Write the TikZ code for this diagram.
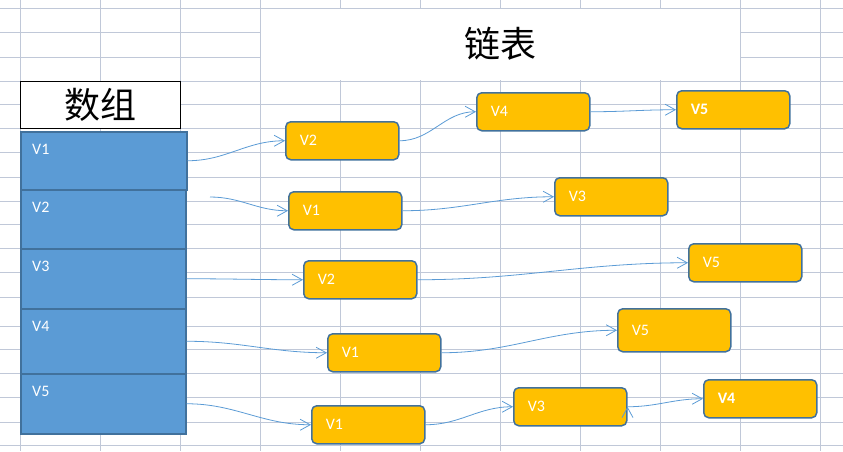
\documentclass[tikz,border=0pt]{standalone}
\usepackage{fontspec}
\usetikzlibrary{positioning, arrows.meta}
\newfontfamily\cf{Carlito}
\newfontfamily\cjk{Noto Sans CJK SC}
\definecolor{gridc}{RGB}{192,200,216}
\definecolor{slotfill}{RGB}{91,155,213}
\definecolor{edgec}{RGB}{65,113,156}
\definecolor{elemfill}{RGB}{255,192,0}

\begin{document}
\begin{tikzpicture}[x=1pt,y=-1pt,
  slot/.style={draw=edgec,fill=slotfill,line width=1.5pt,anchor=north west,minimum width=165pt,inner sep=0pt},
  tag/.style={text=white,font=\cf\fontsize{16}{16}\selectfont,anchor=north west,inner sep=0pt,xshift=12pt,yshift=-13pt},
  elem/.style={draw=edgec,fill=elemfill,line width=1.5pt,rounded corners=5pt,anchor=north west,
    minimum height=38pt,text width=85pt,inner xsep=14pt,align=left,text=white,font=\cf\fontsize{16}{16}\selectfont},
  bold/.style={font=\cf\bfseries\fontsize{16}{16}\selectfont},
  title/.style={font=\cjk\fontsize{36}{36}\selectfont,anchor=north west},
  link/.style={draw=slotfill,line width=0.8pt,-{Straight Barb[length=10pt,width=11pt]},out=0,in=180}]
\useasboundingbox (0,0) rectangle (843,451);

% sheet grid
\foreach \gx in {20,100,...,820}
  \draw[gridc,line width=0.8pt] (\gx,0) -- (\gx,451);
\foreach \gy in {8,32,57,81,104,128,152,177,201,224,248,272,297,326,349,373,397,422,445}
  \draw[gridc,line width=0.8pt] (0,\gy) -- (843,\gy);

% headings
\node[title,fill=white,minimum width=479pt,minimum height=71pt] (list) at (260.5,8.5) {链表};
\node[title,draw,fill=white,line width=0.8pt,minimum width=160pt,minimum height=47pt] (array) at (20,81) {数组};

% array slots
\node[slot,minimum width=166pt,minimum height=58pt,label={[tag]north west:V1}] (s1) at (20,131) {};
\node[slot,minimum height=59pt,label={[tag]north west:V2}] (s2) at (20,189) {};
\node[slot,minimum height=60pt,label={[tag]north west:V3}] (s3) at (20,248) {};
\node[slot,minimum height=65pt,label={[tag]north west:V4}] (s4) at (20,308) {};
\node[slot,minimum height=60pt,label={[tag]north west:V5}] (s5) at (20,373) {};

% list elements
\node[elem] (e11) at (285,121) {V2};
\node[elem] (e12) at (476,92) {V4};
\node[elem,bold] (e13) at (676,90) {V5};

\node[elem] (e21) at (288,191) {V1};
\node[elem] (e22) at (554,177) {V3};

\node[elem] (e31) at (303,260) {V2};
\node[elem] (e32) at (688,243) {V5};

\node[elem] (e41) at (327,333) {V1};
\node[elem,minimum height=43pt] (e42) at (617,308) {V5};

\node[elem] (e51) at (311,405) {V1};
\node[elem] (e52) at (513,387) {V3};
\node[elem,bold] (e53) at (703,379) {V4};

\coordinate (c2) at (210,197);

\path[link]
(s1.east) edge (e11.west)
(e11.east) edge (e12.west)
(e12.east) edge (e13.west)
(c2) edge (e21.west)
(e21.east) edge (e22.west)
(s3.east) edge (e31.west)
(e31.east) edge (e32.west)
(s4.east) edge (e41.west)
(e41.east) edge (e42.west)
(s5.east) edge (e51.west)
(e51.east) edge (e52.west)
(e52.east) edge (e53.west);
\end{tikzpicture}
\end{document}
